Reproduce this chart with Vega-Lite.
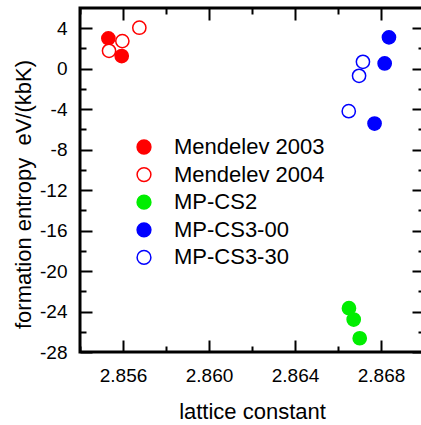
{
  "$schema": "https://vega.github.io/schema/vega-lite/v6.json",
  "width": 344,
  "height": 344,
  "autosize": {"type": "none"},
  "padding": {"left": 80, "top": 8, "right": 0, "bottom": 73},
  "background": "white",
  "config": {
    "font": "Liberation Sans",
    "view": {"stroke": "black", "strokeWidth": 3},
    "axis": {
      "domain": false,
      "grid": false,
      "tickColor": "black",
      "tickWidth": 2,
      "labelColor": "black",
      "titleColor": "black",
      "labelFont": "Liberation Sans",
      "titleFont": "Liberation Sans",
      "labelFontSize": 19,
      "titleFontSize": 22,
      "titleFontWeight": "normal"
    }
  },
  "data": {
    "values": [
      {"series": "Mendelev 2003", "a": 2.85532, "s": 3.0},
      {"series": "Mendelev 2003", "a": 2.85594, "s": 1.25},
      {"series": "Mendelev 2004", "a": 2.85597, "s": 2.73},
      {"series": "Mendelev 2004", "a": 2.85535, "s": 1.77},
      {"series": "Mendelev 2004", "a": 2.85676, "s": 4.05},
      {"series": "MP-CS2", "a": 2.86651, "s": -23.67},
      {"series": "MP-CS2", "a": 2.86673, "s": -24.79},
      {"series": "MP-CS2", "a": 2.86701, "s": -26.64},
      {"series": "MP-CS3-00", "a": 2.86837, "s": 3.1},
      {"series": "MP-CS3-00", "a": 2.86817, "s": 0.52},
      {"series": "MP-CS3-00", "a": 2.8677, "s": -5.42},
      {"series": "MP-CS3-30", "a": 2.86716, "s": 0.68},
      {"series": "MP-CS3-30", "a": 2.86698, "s": -0.7},
      {"series": "MP-CS3-30", "a": 2.8665, "s": -4.2}
    ]
  },
  "layer": [
    {
      "mark": {"type": "point", "opacity": 0},
      "encoding": {
        "x": {"field": "a", "type": "quantitative", "scale": {"domain": [2.854, 2.87], "nice": false, "zero": false},
              "axis": {"orient": "bottom", "values": [2.854, 2.858, 2.862, 2.866, 2.87], "tickSize": -6, "labels": false, "title": null}},
        "y": {"field": "s", "type": "quantitative", "scale": {"domain": [-28, 6], "nice": false, "zero": false},
              "axis": {"orient": "left", "values": [-26, -22, -18, -14, -10, -6, -2, 2], "tickSize": -6, "labels": false, "title": null}}
      }
    },
    {
      "mark": {"type": "point", "opacity": 0},
      "encoding": {
        "x": {"field": "a", "type": "quantitative", "scale": {"domain": [2.854, 2.87], "nice": false, "zero": false},
              "axis": {"orient": "top", "values": [2.854, 2.858, 2.862, 2.866, 2.87], "tickSize": -6, "labels": false, "title": null}},
        "y": {"field": "s", "type": "quantitative", "scale": {"domain": [-28, 6], "nice": false, "zero": false},
              "axis": {"orient": "right", "values": [-26, -22, -18, -14, -10, -6, -2, 2], "tickSize": -6, "labels": false, "title": null}}
      }
    },
    {
      "mark": {"type": "point", "opacity": 0},
      "encoding": {
        "x": {"field": "a", "type": "quantitative", "scale": {"domain": [2.854, 2.87], "nice": false, "zero": false},
              "axis": {"orient": "top", "values": [2.856, 2.86, 2.864, 2.868], "tickSize": -12, "labels": false, "title": null}},
        "y": {"field": "s", "type": "quantitative", "scale": {"domain": [-28, 6], "nice": false, "zero": false},
              "axis": {"orient": "right", "values": [-28, -24, -20, -16, -12, -8, -4, 0, 4], "tickSize": -12, "labels": false, "title": null}}
      }
    },
    {
      "mark": {"type": "point", "shape": "circle", "size": 175, "strokeWidth": 1.5, "filled": true, "opacity": 1},
      "encoding": {
        "x": {"field": "a", "type": "quantitative", "scale": {"domain": [2.854, 2.87], "nice": false, "zero": false},
              "axis": {"orient": "bottom", "values": [2.856, 2.86, 2.864, 2.868], "format": ".3f", "tickSize": -12, "labelPadding": 26, "title": "lattice constant", "titlePadding": 16}},
        "y": {"field": "s", "type": "quantitative", "scale": {"domain": [-28, 6], "nice": false, "zero": false},
              "axis": {"orient": "left", "values": [-28, -24, -20, -16, -12, -8, -4, 0, 4], "format": "d", "labelExpr": "replace(datum.label, '\u2212', '-')", "tickSize": -12, "labelPadding": 25, "title": "formation entropy\u00a0 eV/(kbK)", "titleX": -57, "titleY": 186, "titleBaseline": "middle"}},
        "fill": {"field": "series", "type": "nominal",
                 "scale": {"domain": ["Mendelev 2003", "Mendelev 2004", "MP-CS2", "MP-CS3-00", "MP-CS3-30"], "range": ["#ff0000", "#ffffff", "#00ee00", "#0000ff", "#ffffff"]},
                 "legend": {"title": null, "orient": "none", "legendX": 53, "legendY": 128, "padding": 0, "symbolType": "circle", "symbolSize": 190, "symbolStrokeWidth": 1.5, "labelFontSize": 22, "labelFont": "Liberation Sans", "labelColor": "black", "labelOffset": 19, "rowPadding": 5.6}},
        "stroke": {"field": "series", "type": "nominal",
                   "scale": {"domain": ["Mendelev 2003", "Mendelev 2004", "MP-CS2", "MP-CS3-00", "MP-CS3-30"], "range": ["#ff0000", "#ff0000", "#00ee00", "#0000ff", "#0000ff"]},
                   "legend": {"title": null, "orient": "none", "legendX": 53, "legendY": 128, "padding": 0, "symbolType": "circle", "symbolSize": 190, "symbolStrokeWidth": 1.5, "labelFontSize": 22, "labelFont": "Liberation Sans", "labelColor": "black", "labelOffset": 19, "rowPadding": 5.6}}
      }
    }
  ],
  "resolve": {"axis": {"x": "independent", "y": "independent"}}
}
